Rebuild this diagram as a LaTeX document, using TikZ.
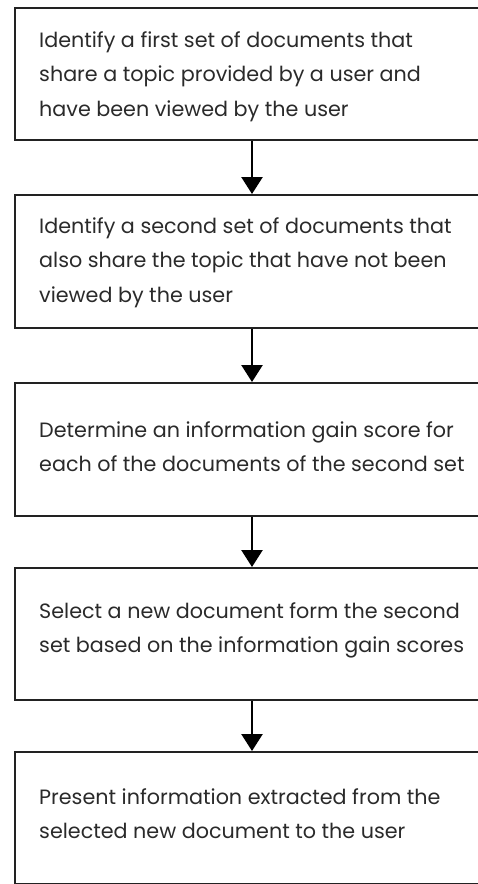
\documentclass[tikz,border=0pt]{standalone}
\usepackage{fontspec}
\setmainfont{Poppins}
\usetikzlibrary{arrows.meta}
\definecolor{txt}{HTML}{2A2A2A}
\definecolor{edge}{HTML}{222222}
\tikzset{
  box/.style={draw=edge, line width=2pt, rectangle, anchor=north west, inner sep=0pt,
    minimum width=475pt},
  lbl/.style={anchor=base west, inner sep=0pt, text=txt},
  arr/.style={draw=black, line width=2.5pt, -{Triangle[length=17pt,width=21pt]}}
}
\newcommand{\steptext}[1]{\parbox[t]{440pt}{\fontsize{20.7}{34.5}\selectfont\raggedright #1}}
\begin{document}
\begin{tikzpicture}[x=1pt,y=-1pt]
\useasboundingbox (0,0) rectangle (477,884);
\node[box, minimum height=132pt] (b1) at (14,7) {};
\node[box, minimum height=133pt] (b2) at (14,194) {};
\node[box, minimum height=133pt] (b3) at (14,382) {};
\node[box, minimum height=132pt] (b4) at (14,567) {};
\node[box, minimum height=132pt] (b5) at (14,751) {};
\node[lbl] (t1) at (39,47) {\steptext{Identify a first set of documents that\\share a topic provided by a user and\\have been viewed by the user}};
\node[lbl] (t2) at (39,233) {\steptext{Identify a second set of documents that\\also share the topic that have not been\\viewed by the user}};
\node[lbl] (t3) at (39,437) {\steptext{Determine an information gain score for\\each of the documents of the second set}};
\node[lbl] (t4) at (39,618) {\steptext{Select a new document form the second\\set based on the information gain scores}};
\node[lbl] (t5) at (39,804) {\steptext{Present information extracted from the\\selected new document to the user}};
\draw[arr] ([xshift=-0.5pt]b1.south) -- ([xshift=-0.5pt]b2.north);
\draw[arr] ([xshift=-0.5pt]b2.south) -- ([xshift=-0.5pt]b3.north);
\draw[arr] ([xshift=-0.5pt]b3.south) -- ([xshift=-0.5pt]b4.north);
\draw[arr] ([xshift=-0.5pt]b4.south) -- ([xshift=-0.5pt]b5.north);
\end{tikzpicture}
\end{document}
